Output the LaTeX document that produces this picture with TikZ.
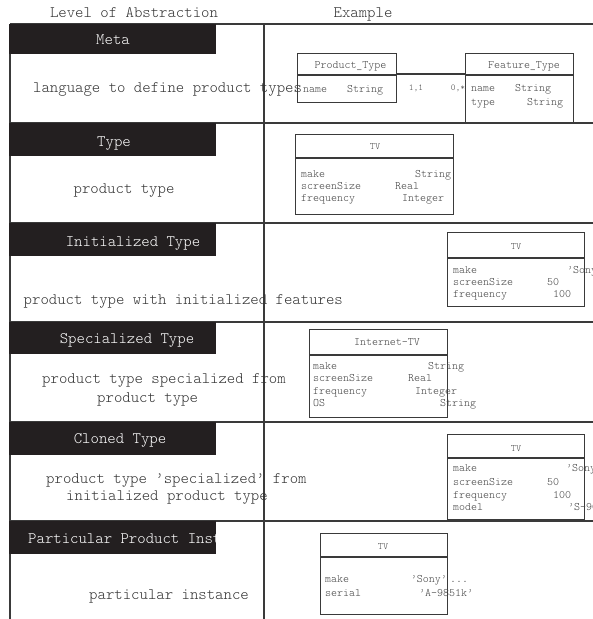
\documentclass[tikz,border=0pt]{standalone}
\usepackage{fontspec}
\setmainfont{Latin Modern Mono Light}
\definecolor{linec}{HTML}{3A3A3A}
\definecolor{barc}{HTML}{231F20}
\definecolor{txtc}{HTML}{333333}
\definecolor{boxtxt}{HTML}{444444}
\newcommand\fbig{\fontsize{16}{18}\selectfont}
\newcommand\fsm{\fontsize{11.4}{13}\selectfont}
\newcommand\ftv{\fontsize{9.8}{11}\selectfont}
\newcommand\fmul{\fontsize{9}{10}\selectfont}
\begin{document}
\begin{tikzpicture}[x=1pt,y=-1pt,
  rule/.style={draw=linec, line width=1.4pt},
  bar/.style={fill=barc, draw=none, inner sep=0, outer sep=0, anchor=north west, minimum width=207pt},
  bartxt/.style={text=white, font=\fbig, inner sep=0, anchor=base},
  desc/.style={text=txtc, font=\fbig, inner sep=0, anchor=base west},
  colhd/.style={text=txtc, font=\fbig, inner sep=0, anchor=base},
  umlbox/.style={draw=linec, line width=0.9pt, inner sep=0, outer sep=0, anchor=north west},
  div/.style={draw=linec, line width=1.1pt},
  attr/.style={text=boxtxt, font=\fsm, inner sep=0, anchor=base west},
  ttl/.style={text=boxtxt, font=\fsm, inner sep=0, anchor=base},
  ttltv/.style={text=boxtxt, font=\ftv, inner sep=0, anchor=base},
  mult/.style={text=boxtxt, font=\fmul, inner sep=0, anchor=base}
]
\useasboundingbox (0,0) rectangle (593,619);

% column headers
\node[colhd] (hlevel) at (134,17.5) {Level of Abstraction};
\node[colhd] (hexample) at (363,17.5) {Example};

% grid lines
\draw[rule] (10,24) -- (593,24);
\draw[rule] (10,123) -- (593,123);
\draw[rule] (10,223) -- (593,223);
\draw[rule] (10,322) -- (593,322);
\draw[rule] (10,422) -- (593,422);
\draw[rule] (10,521) -- (593,521);
\draw[rule] (10,24) -- (10,619);
\draw[rule] (264,24) -- (264,619);

% ---------- Meta ----------
\node[bar, minimum height=30pt] (b1) at (9,24) {};
\node[bartxt] (b1t) at (113,44.5) {Meta};
\node[desc] (d1) at (33,92) {language to define product types};
\node[umlbox, minimum width=99pt, minimum height=49pt] (ptype) at (297,53) {};
\draw[div] ([yshift=-22pt]ptype.north west) -- ([yshift=-22pt]ptype.north east);
\node[ttl] (ptypet) at (350.5,68) {Product\_Type};
\node[attr] (pta1) at (303,92) {name};
\node[attr] (ptv1) at (347,92) {String};
\node[umlbox, minimum width=108pt, minimum height=69pt] (ftype) at (465,53) {};
\draw[div] ([yshift=-22pt]ftype.north west) -- ([yshift=-22pt]ftype.north east);
\node[ttl] (ftypet) at (524,68) {Feature\_Type};
\node[attr] (fta1) at (471,91.5) {name};
\node[attr] (ftv1) at (515,91.5) {String};
\node[attr] (fta2) at (471,105) {type};
\node[attr] (ftv2) at (527,105) {String};
\draw[div] ([yshift=-21pt]ptype.north east) -- ([yshift=-21pt]ftype.north west);
\node[mult] (m1) at (416,90.5) {1,1};
\node[mult] (m2) at (458,90.5) {0,*};

% ---------- Type ----------
\node[bar, minimum height=33pt] (b2) at (9,123) {};
\node[bartxt] (b2t) at (114,146) {Type};
\node[desc, anchor=base] (d2) at (124,193) {product type};
\node[umlbox, minimum width=158pt, minimum height=80pt] (tv1) at (295,134) {};
\draw[div] ([yshift=-24pt]tv1.north west) -- ([yshift=-24pt]tv1.north east);
\node[ttltv] (tv1t) at (375,149) {TV};
\node[attr] (tv1a1) at (301,177) {make};
\node[attr] (tv1v1) at (415,177) {String};
\node[attr] (tv1a2) at (301,189) {screenSize};
\node[attr] (tv1v2) at (395,189) {Real};
\node[attr] (tv1a3) at (301,201) {frequency};
\node[attr] (tv1v3) at (402,201) {Integer};

% ---------- Initialized Type ----------
\node[bar, minimum height=33pt] (b3) at (9,223) {};
\node[bartxt] (b3t) at (133,246) {Initialized Type};
\node[desc] (d3) at (23.5,304) {product type with initialized features};
\node[umlbox, minimum width=137pt, minimum height=74pt] (tv2) at (447,232) {};
\draw[div] ([yshift=-26pt]tv2.north west) -- ([yshift=-26pt]tv2.north east);
\node[ttltv] (tv2t) at (516,249) {TV};
\node[attr] (tv2a1) at (453,273) {make};
\node[attr] (tv2v1) at (567,273) {'Sony};
\node[attr] (tv2a2) at (453,285) {screenSize};
\node[attr] (tv2v2) at (547,285) {50};
\node[attr] (tv2a3) at (453,297.5) {frequency};
\node[attr] (tv2v3) at (553,297.5) {100};

% ---------- Specialized Type ----------
\node[bar, minimum height=32pt] (b4) at (9,322) {};
\node[bartxt] (b4t) at (127,343) {Specialized Type};
\node[desc] (d4a) at (42,383) {product type specialized from};
\node[desc] (d4b) at (97,402) {product type};
\node[umlbox, minimum width=138pt, minimum height=88pt] (itv) at (309,329) {};
\draw[div] ([yshift=-26pt]itv.north west) -- ([yshift=-26pt]itv.north east);
\node[ttl] (itvt) at (387,345) {Internet-TV};
\node[attr] (itva1) at (313,369) {make};
\node[attr] (itvv1) at (428,369) {String};
\node[attr] (itva2) at (313,381.5) {screenSize};
\node[attr] (itvv2) at (408,381.5) {Real};
\node[attr] (itva3) at (313,394) {frequency};
\node[attr] (itvv3) at (415,394) {Integer};
\node[attr] (itva4) at (313,406) {OS};
\node[attr] (itvv4) at (440,406) {String};

% ---------- Cloned Type ----------
\node[bar, minimum height=33pt] (b5) at (9,422) {};
\node[bartxt] (b5t) at (120,443) {Cloned Type};
\node[desc] (d5a) at (46,483) {product type 'specialized' from};
\node[desc] (d5b) at (66,500) {initialized product type};
\node[umlbox, minimum width=137pt, minimum height=85pt] (tv3) at (447,434) {};
\draw[div] ([yshift=-24pt]tv3.north west) -- ([yshift=-24pt]tv3.north east);
\node[ttltv] (tv3t) at (516,451) {TV};
\node[attr] (tv3a1) at (453,471) {make};
\node[attr] (tv3v1) at (566,471) {'Sony};
\node[attr] (tv3a2) at (453,485) {screenSize};
\node[attr] (tv3v2) at (547,485) {50};
\node[attr] (tv3a3) at (453,498) {frequency};
\node[attr] (tv3v3) at (553,498) {100};
\node[attr] (tv3a4) at (453,510) {model};
\node[attr] (tv3v4) at (568,510) {'S-90};

% ---------- Particular Product Instance ----------
\node[bar, minimum height=33pt] (b6) at (9,521) {};
\begin{scope}
\clip (9,521) rectangle (216,554);
\node[bartxt, anchor=base west] (b6t) at (28,543) {Particular Product Inst};
\end{scope}
\node[desc] (d6) at (89,599) {particular instance};
\node[umlbox, minimum width=127pt, minimum height=81pt] (tv4) at (320,533) {};
\draw[div] ([yshift=-24pt]tv4.north west) -- ([yshift=-24pt]tv4.north east);
\node[ttltv] (tv4t) at (383,549) {TV};
\node[attr] (tv4a1) at (325,582) {make};
\node[attr, anchor=base east] (tv4v1) at (447,582) {'Sony'};
\node[attr] (tv4dots) at (450,582) {...};
\node[attr] (tv4a2) at (325,596) {serial};
\node[attr] (tv4v2) at (419,596) {'A-9851k'};
\end{tikzpicture}
\end{document}
